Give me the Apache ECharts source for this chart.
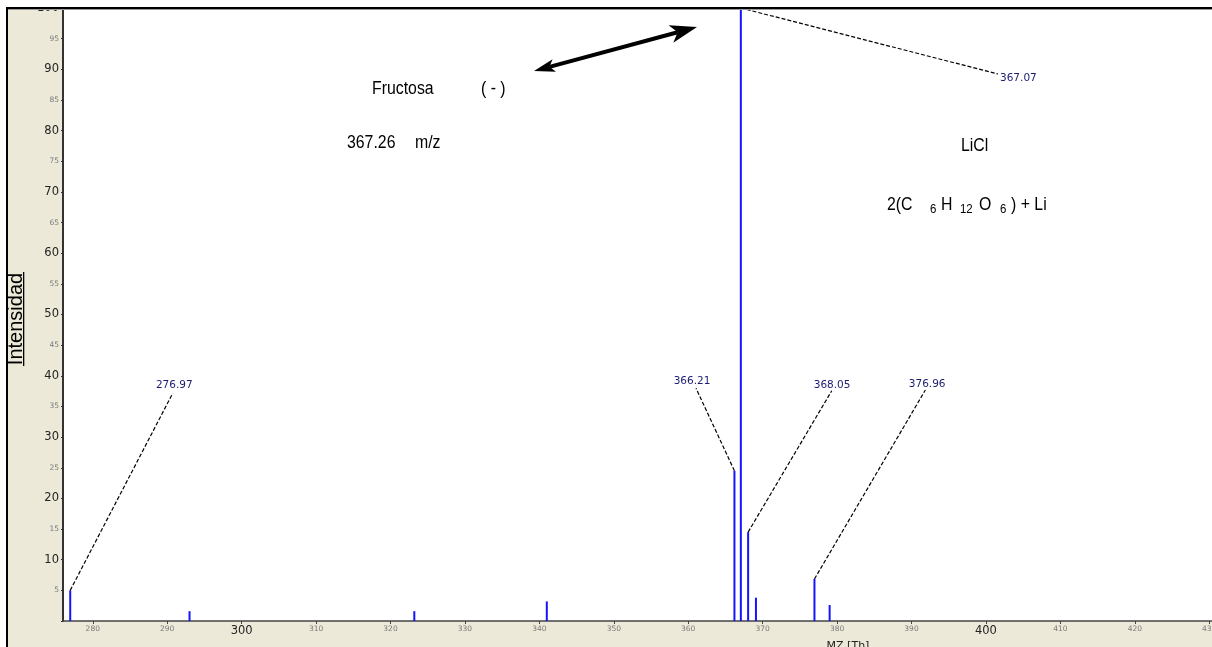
<!DOCTYPE html>
<html>
<head>
<meta charset="utf-8">
<script src="https://cdn.jsdelivr.net/npm/echarts@6/dist/echarts.min.js"></script>
<style>
  html, body { margin: 0; padding: 0; background: #fff; }
  #chart { width: 1212px; height: 647px; }
</style>
</head>
<body>
<div id="chart"></div>
<script>
// Peaks of the spectrum: m/z and relative intensity (%)
const peakMz        = [276.97, 293.0, 323.2, 341.0, 366.21, 367.07, 368.05, 369.1, 376.96, 379.0];
const peakIntensity = [5.0,    1.6,   1.6,   3.2,   24.5,   100,    14.5,   3.8,   6.85,   2.6];

// Peaks that carry an m/z callout (indices into peakMz)
const labelledPeaks = [0, 4, 5, 6, 8];

// Axis tick values
const mzTicks = [280, 290, 300, 310, 320, 330, 340, 350, 360, 370, 380, 390, 400, 410, 420, 430];

// Callout layout in axis units: end of the dashed leader, label anchor, alignment
const calloutLayout = [
  { end: [290.74, 37.15], at: [290.95, 38.5],  align: 'center' },
  { end: [361.05, 37.96], at: [360.51, 39.07], align: 'center' },
  { end: [401.62, 89.23], at: [401.89, 88.58], align: 'left'   },
  { end: [379.29, 37.57], at: [379.33, 38.5],  align: 'center' },
  { end: [391.86, 37.68], at: [392.1,  38.58], align: 'center' }
];

const chart = echarts.init(document.getElementById('chart'), null, { renderer: 'canvas' });

const FONT_UI = '"DejaVu Sans", Verdana, sans-serif';
const FONT_TXT = '"Liberation Sans", Arial, sans-serif';

function note(text, x, y, size) {
  return {
    type: 'text', x: x, y: y, z: 100, scaleX: 0.88,
    style: { text: text, fill: '#000', font: size + 'px ' + FONT_TXT, align: 'left', verticalAlign: 'middle' }
  };
}

// double-headed arrow
const arrowTipL = [534, 71], arrowTipR = [697, 27];
const ax = arrowTipR[0] - arrowTipL[0], ay = arrowTipR[1] - arrowTipL[1];
const alen = Math.hypot(ax, ay);
const ux = ax / alen, uy = ay / alen, nx = -uy, ny = ux;
function head(tip, dir, len, half, notch) {
  const bx = tip[0] - dir * len * ux, by = tip[1] - dir * len * uy;
  const kx = bx + dir * notch * ux, ky = by + dir * notch * uy;
  return {
    pts: [tip, [bx + half * nx, by + half * ny], [kx, ky], [bx - half * nx, by - half * ny]],
    notch: [kx, ky]
  };
}
const headR = head(arrowTipR, 1, 27, 9, 7);
const headL = head(arrowTipL, -1, 21, 6.5, 5);

const option = {
  backgroundColor: '#ECE9D8',
  animation: false,
  grid: {
    left: 63, top: 8, width: 1176, height: 613,
    show: true, backgroundColor: '#fff', borderWidth: 0,
    containLabel: false, outerBoundsMode: 'none'
  },
  xAxis: {
    type: 'value', min: 276, max: 434,
    axisLine: { show: true, lineStyle: { color: '#444', width: 1.5 } },
    axisTick: { show: true, customValues: mzTicks, length: 3, lineStyle: { color: '#444' } },
    axisLabel: {
      customValues: mzTicks, margin: 4,
      formatter: v => (v % 100 === 0 ? '{b|' + v + '}' : '{s|' + v + '}'),
      rich: {
        b: { fontFamily: FONT_UI, fontSize: 11.5, color: '#222' },
        s: { fontFamily: FONT_UI, fontSize: 7.5, color: '#7a7a7a' }
      }
    },
    splitLine: { show: false }
  },
  yAxis: {
    type: 'value', min: 0, max: 100, interval: 5,
    axisLine: { show: true, lineStyle: { color: '#333', width: 2 } },
    axisTick: { show: true, length: 2, lineStyle: { color: '#333' } },
    axisLabel: {
      margin: 4,
      formatter: v => (v === 0 ? '' : (v % 10 === 0 ? '{b|' + v + '}' : '{s|' + v + '}')),
      rich: {
        b: { fontFamily: FONT_UI, fontSize: 11.5, color: '#222' },
        s: { fontFamily: FONT_UI, fontSize: 7.5, color: '#7a7a7a' }
      }
    },
    splitLine: { show: false }
  },
  series: [
    {
      type: 'custom',
      name: 'peaks',
      silent: true,
      data: peakMz.map((m, i) => [m, peakIntensity[i]]),
      encode: { x: 0, y: 1 },
      renderItem: function (params, api) {
        const base = api.coord([api.value(0), 0]);
        const top = api.coord([api.value(0), api.value(1)]);
        return {
          type: 'line',
          shape: { x1: base[0], y1: base[1], x2: top[0], y2: top[1] },
          style: { stroke: '#1414ff', lineWidth: 2 }
        };
      }
    },
    {
      type: 'custom',
      name: 'callouts',
      silent: true,
      data: labelledPeaks.map((p, k) => [peakMz[p], peakIntensity[p], k]),
      encode: { x: 0, y: 1 },
      renderItem: function (params, api) {
        const k = api.value(2);
        const lay = calloutLayout[k];
        const top = api.coord([api.value(0), api.value(1)]);
        const end = api.coord(lay.end);
        const at = api.coord(lay.at);
        return {
          type: 'group',
          children: [
            {
              type: 'line',
              shape: { x1: top[0], y1: top[1], x2: end[0], y2: end[1] },
              style: { stroke: '#000', lineWidth: 1.2, lineDash: [4, 2] }
            },
            {
              type: 'text',
              x: at[0], y: at[1],
              style: {
                text: api.value(0).toFixed(2),
                fill: '#1b1b72',
                font: '10.5px ' + FONT_UI,
                align: lay.align,
                verticalAlign: 'middle'
              }
            }
          ]
        };
      }
    }
  ],
  graphic: [
    // outer frame
    { type: 'rect', z: 100, shape: { x: 0, y: 0, width: 1212, height: 7 }, style: { fill: '#fff' } },
    { type: 'rect', z: 100, shape: { x: 0, y: 0, width: 6, height: 647 }, style: { fill: '#fff' } },
    { type: 'rect', z: 101, shape: { x: 6, y: 7, width: 1206, height: 2 }, style: { fill: '#000' } },
    { type: 'rect', z: 101, shape: { x: 8, y: 9, width: 1204, height: 1 }, style: { fill: '#9a9a9a' } },
    { type: 'rect', z: 101, shape: { x: 6, y: 7, width: 2, height: 640 }, style: { fill: '#000' } },

    // axis titles
    {
      type: 'text', z: 100, x: 16, y: 319, rotation: Math.PI / 2,
      style: { text: 'Intensidad', fill: '#000', font: '20px ' + FONT_TXT, align: 'center', verticalAlign: 'middle' }
    },
    { type: 'rect', z: 100, shape: { x: 23, y: 272, width: 1.3, height: 94 }, style: { fill: '#000' } },
    {
      type: 'text', z: 100, x: 848, y: 646,
      style: { text: 'MZ [Th]', fill: '#222', font: '11px ' + FONT_UI, align: 'center', verticalAlign: 'middle' }
    },

    // annotations
    note('Fructosa', 372, 89, 18),
    note('( - )', 481, 89, 18),
    note('367.26', 347, 143, 18),
    note('m/z', 415, 143, 18),
    note('LiCl', 961, 146, 18),
    note('2(C', 887, 205, 18),
    note('6', 930, 209, 13),
    note('H', 941, 205, 18),
    note('12', 960, 209, 13),
    note('O', 979, 205, 18),
    note('6', 1000, 209, 13),
    note(') + Li', 1011, 205, 18),

    // arrow
    {
      type: 'line', z: 100,
      shape: { x1: headL.notch[0], y1: headL.notch[1], x2: headR.notch[0], y2: headR.notch[1] },
      style: { stroke: '#000', lineWidth: 4 }
    },
    { type: 'polygon', z: 100, shape: { points: headR.pts }, style: { fill: '#000' } },
    { type: 'polygon', z: 100, shape: { points: headL.pts }, style: { fill: '#000' } }
  ]
};

chart.setOption(option);
</script>
</body>
</html>
